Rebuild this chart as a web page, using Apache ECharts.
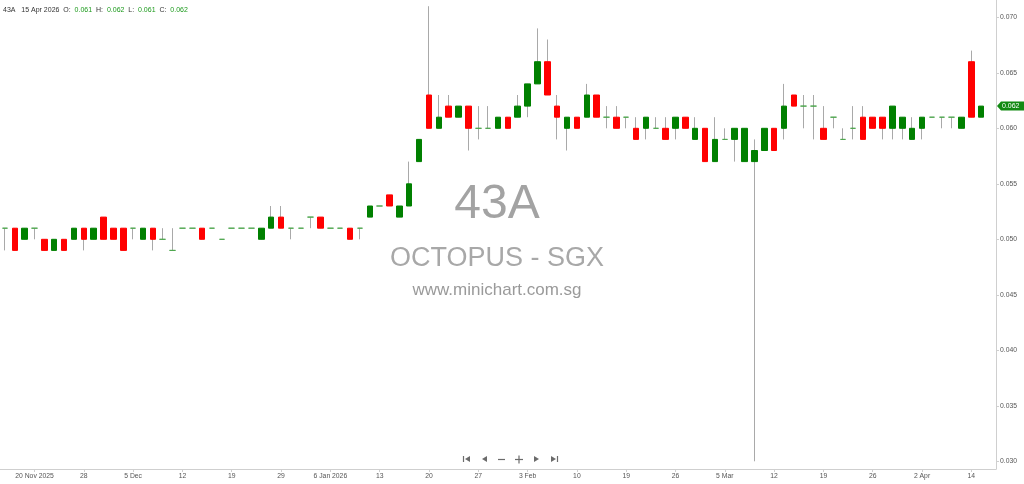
<!DOCTYPE html>
<html><head><meta charset="utf-8">
<script src="https://cdn.jsdelivr.net/npm/echarts@6/dist/echarts.min.js"></script>
<style>html,body{margin:0;padding:0;background:#fff}#c{width:1024px;height:484px}</style>
</head><body><div id="c"></div>
<script>
const symbol = "43A";
const stockName = "OCTOPUS - SGX";
const site = "www.minichart.com.sg";

const dates = [
"2025-11-17","2025-11-18","2025-11-19","2025-11-20","2025-11-21","2025-11-24","2025-11-25","2025-11-26","2025-11-28","2025-12-01",
"2025-12-02","2025-12-03","2025-12-04","2025-12-05","2025-12-08","2025-12-09","2025-12-10","2025-12-11","2025-12-12","2025-12-15",
"2025-12-16","2025-12-17","2025-12-18","2025-12-19","2025-12-22","2025-12-23","2025-12-24","2025-12-26","2025-12-29","2025-12-30",
"2025-12-31","2026-01-02","2026-01-05","2026-01-06","2026-01-07","2026-01-08","2026-01-09","2026-01-12","2026-01-13","2026-01-14",
"2026-01-15","2026-01-16","2026-01-19","2026-01-20","2026-01-21","2026-01-22","2026-01-23","2026-01-26","2026-01-27","2026-01-28",
"2026-01-29","2026-01-30","2026-02-02","2026-02-03","2026-02-04","2026-02-05","2026-02-06","2026-02-09","2026-02-10","2026-02-11",
"2026-02-12","2026-02-13","2026-02-16","2026-02-19","2026-02-20","2026-02-23","2026-02-24","2026-02-25","2026-02-26","2026-02-27",
"2026-03-02","2026-03-03","2026-03-04","2026-03-05","2026-03-06","2026-03-09","2026-03-10","2026-03-11","2026-03-12","2026-03-13",
"2026-03-16","2026-03-17","2026-03-18","2026-03-19","2026-03-20","2026-03-23","2026-03-24","2026-03-25","2026-03-26","2026-03-27",
"2026-03-30","2026-03-31","2026-04-01","2026-04-02","2026-04-06","2026-04-07","2026-04-08","2026-04-09","2026-04-14","2026-04-15"
];

const tickLabels = ["20 Nov 2025","28","5 Dec","12","19","29","6 Jan 2026","13","20","27",
                    "3 Feb","10","19","26","5 Mar","12","19","26","2 Apr","14"];
const firstTickIndex = 3;
const tickStep = 5;

const open = [
.051,.051,.050,.051,.050,.049,.050,.050,.051,.050,
.052,.051,.051,.051,.050,.051,.050,.049,.051,.051,
.051,.051,.050,.051,.051,.051,.050,.051,.052,.051,
.051,.052,.052,.051,.051,.051,.051,.052,.053,.054,
.052,.053,.057,.063,.060,.062,.061,.062,.060,.060,
.060,.061,.061,.062,.064,.066,.062,.060,.061,.061,
.063,.061,.061,.061,.060,.060,.060,.060,.060,.061,
.059,.060,.057,.059,.059,.057,.057,.058,.060,.060,
.063,.062,.062,.060,.061,.059,.060,.061,.061,.061,
.060,.060,.059,.060,.061,.061,.061,.060,.066,.061];

const high = [
.051,.051,.051,.051,.050,.050,.050,.051,.051,.051,
.052,.051,.051,.051,.051,.051,.051,.051,.051,.051,
.051,.051,.050,.051,.051,.051,.051,.053,.053,.051,
.051,.052,.052,.051,.051,.051,.051,.053,.053,.054,
.053,.057,.059,.071,.063,.063,.062,.062,.062,.062,
.061,.061,.063,.064,.069,.068,.063,.061,.061,.064,
.063,.062,.062,.061,.061,.061,.061,.061,.061,.061,
.061,.060,.061,.060,.060,.060,.059,.060,.060,.064,
.063,.063,.063,.062,.061,.060,.062,.062,.061,.061,
.062,.061,.061,.061,.061,.061,.061,.061,.067,.062];

const low = [
.049,.049,.050,.050,.049,.049,.049,.050,.049,.050,
.050,.050,.049,.050,.050,.049,.050,.049,.051,.051,
.050,.051,.050,.051,.051,.051,.050,.051,.051,.050,
.051,.051,.051,.051,.051,.050,.050,.052,.053,.053,
.052,.053,.057,.060,.060,.061,.061,.058,.059,.060,
.060,.060,.061,.061,.064,.063,.059,.058,.060,.061,
.061,.060,.060,.060,.059,.059,.060,.059,.059,.060,
.059,.057,.057,.059,.057,.057,.030,.058,.058,.059,
.062,.060,.059,.059,.060,.059,.059,.059,.060,.059,
.059,.059,.059,.059,.061,.060,.060,.060,.061,.061];

const close = [
.051,.049,.051,.051,.049,.050,.049,.051,.050,.051,
.050,.050,.049,.051,.051,.050,.050,.049,.051,.051,
.050,.051,.050,.051,.051,.051,.051,.052,.051,.051,
.051,.052,.051,.051,.051,.050,.051,.053,.053,.053,
.053,.055,.059,.060,.061,.061,.062,.060,.060,.060,
.061,.060,.062,.064,.066,.063,.061,.061,.060,.063,
.061,.061,.060,.061,.059,.061,.060,.059,.061,.060,
.060,.057,.059,.059,.060,.060,.058,.060,.058,.062,
.062,.062,.062,.059,.061,.059,.060,.059,.060,.060,
.062,.061,.060,.061,.061,.061,.061,.061,.061,.062];

const UP = '#008000', DOWN = '#ff0000', DOJI = '#4ea64e', WICK = '#a9a9a9';
const AXIS_TEXT = '#555', FONT = '"Liberation Sans", Arial, sans-serif';

const cats = dates.concat(['']); // one empty slot on the right like the reference
const wickData = dates.map((d, i) => [open[i], close[i], low[i], high[i]]);
const bodyData = dates.map((d, i) => {
  const v = [open[i], close[i], Math.min(open[i], close[i]), Math.max(open[i], close[i])];
  if (open[i] === close[i]) {
    return { value: v, itemStyle: { color: DOJI, color0: DOJI, borderColor: DOJI, borderColor0: DOJI } };
  }
  return v;
});

const chart = echarts.init(document.getElementById('c'), null, { renderer: 'canvas' });

const Y_MIN = 0.029306, Y_MAX = 0.071559;

chart.setOption({
  animation: false,
  backgroundColor: '#ffffff',
  grid: { left: 0, right: 28, top: 0, bottom: 15, containLabel: false },
  xAxis: {
    type: 'category',
    data: cats,
    boundaryGap: true,
    axisLine: { show: true, lineStyle: { color: '#cfcfcf', width: 1 } },
    axisTick: {
      show: true, alignWithLabel: true, length: 3,
      interval: (idx) => idx >= firstTickIndex && (idx - firstTickIndex) % tickStep === 0 && idx < dates.length,
      lineStyle: { color: '#cfcfcf' }
    },
    axisLabel: {
      show: true, margin: 4, fontSize: 6.8, color: AXIS_TEXT, fontFamily: FONT,
      interval: (idx) => idx >= firstTickIndex && (idx - firstTickIndex) % tickStep === 0 && idx < dates.length,
      formatter: (val, idx) => {
        const k = (idx - firstTickIndex) / tickStep;
        return tickLabels[k] !== undefined ? tickLabels[k] : '';
      }
    },
    splitLine: { show: false }
  },
  yAxis: {
    type: 'value',
    position: 'right',
    min: Y_MIN, max: Y_MAX,
    splitNumber: 8,
    axisLine: { show: true, lineStyle: { color: '#cfcfcf', width: 1 } },
    axisTick: { show: true, length: 3, lineStyle: { color: '#cfcfcf' } },
    axisLabel: {
      show: true, margin: 4, fontSize: 6.8, color: AXIS_TEXT, fontFamily: FONT,
      showMinLabel: false, showMaxLabel: false,
      formatter: (v) => v.toFixed(3)
    },
    splitLine: { show: false }
  },
  series: [
    {
      name: 'wick', type: 'candlestick', data: wickData, barWidth: 1, z: 2,
      itemStyle: { color: 'rgba(0,0,0,0)', color0: 'rgba(0,0,0,0)', borderColor: WICK, borderColor0: WICK, borderWidth: 1 },
      emphasis: { disabled: true }
    },
    {
      name: 'body', type: 'candlestick', data: bodyData, barWidth: 6, z: 3,
      itemStyle: { color: UP, color0: DOWN, borderColor: UP, borderColor0: DOWN, borderWidth: 1 },
      emphasis: { disabled: true }
    }
  ]
});

// header + watermark + navigation + last price tag
const months = ['Jan','Feb','Mar','Apr','May','Jun','Jul','Aug','Sep','Oct','Nov','Dec'];
const n = dates.length - 1;
const dp = dates[n].split('-');
const lastDate = (+dp[2]) + ' ' + months[+dp[1] - 1] + ' ' + dp[0];
const f3 = (v) => v.toFixed(3);
const headerText = '{k|' + symbol + '}   {k|' + lastDate + '}  {k|O:}  {v|' + f3(open[n]) + '}  {k|H:}  {v|' + f3(high[n]) +
  '}  {k|L:}  {v|' + f3(low[n]) + '}  {k|C:}  {v|' + f3(close[n]) + '}';

const lastY = chart.convertToPixel({ yAxisIndex: 0 }, close[n]);
const axisX = 996;
const navC = '#6b6b6b';

chart.setOption({
  graphic: [
    { type: 'text', x: 3, y: 10, z: 10, style: {
        text: headerText, fontFamily: FONT, fontSize: 7, verticalAlign: 'middle', textVerticalAlign: 'middle',
        rich: { k: { fill: '#333', fontSize: 7, fontFamily: FONT }, v: { fill: '#1c9a1c', fontSize: 7, fontFamily: FONT } }
    } },
    { type: 'text', x: 497, y: 205, z: -5, style: { text: symbol, font: '48px ' + FONT, fill: '#a3a3a3', align: 'center', verticalAlign: 'middle', textAlign: 'center', textVerticalAlign: 'middle' } },
    { type: 'text', x: 497, y: 258.5, z: -5, style: { text: stockName, font: '27px ' + FONT, fill: '#a8a8a8', align: 'center', verticalAlign: 'middle', textAlign: 'center', textVerticalAlign: 'middle' } },
    { type: 'text', x: 497, y: 290, z: -5, style: { text: site, font: '17px ' + FONT, fill: '#9a9a9a', align: 'center', verticalAlign: 'middle', textAlign: 'center', textVerticalAlign: 'middle' } },
    // navigation controls
    { type: 'line', shape: { x1: 463.5, y1: 456, x2: 463.5, y2: 462 }, style: { stroke: navC, lineWidth: 1.2 } },
    { type: 'polygon', shape: { points: [[470, 456], [470, 462], [465, 459]] }, style: { fill: navC } },
    { type: 'polygon', shape: { points: [[487, 456], [487, 462], [482, 459]] }, style: { fill: navC } },
    { type: 'line', shape: { x1: 498, y1: 459.5, x2: 505, y2: 459.5 }, style: { stroke: navC, lineWidth: 1.2 } },
    { type: 'line', shape: { x1: 515, y1: 459.5, x2: 523, y2: 459.5 }, style: { stroke: navC, lineWidth: 1.2 } },
    { type: 'line', shape: { x1: 519, y1: 455.5, x2: 519, y2: 463.5 }, style: { stroke: navC, lineWidth: 1.2 } },
    { type: 'polygon', shape: { points: [[534, 456], [534, 462], [539, 459]] }, style: { fill: navC } },
    { type: 'polygon', shape: { points: [[551, 456], [551, 462], [556, 459]] }, style: { fill: navC } },
    { type: 'line', shape: { x1: 557.5, y1: 456, x2: 557.5, y2: 462 }, style: { stroke: navC, lineWidth: 1.2 } },
    // last price tag
    { type: 'polygon', z: 20, shape: { points: [[axisX + 1, lastY], [axisX + 5, lastY - 4.5], [1024, lastY - 4.5], [1024, lastY + 4.5], [axisX + 5, lastY + 4.5]] }, style: { fill: '#128a12' } },
    { type: 'text', z: 21, x: axisX + 6, y: lastY, style: { text: f3(close[n]), fontFamily: FONT, fontSize: 7, fill: '#ffffff', verticalAlign: 'middle', textVerticalAlign: 'middle' } }
  ]
});
</script>
</body></html>
